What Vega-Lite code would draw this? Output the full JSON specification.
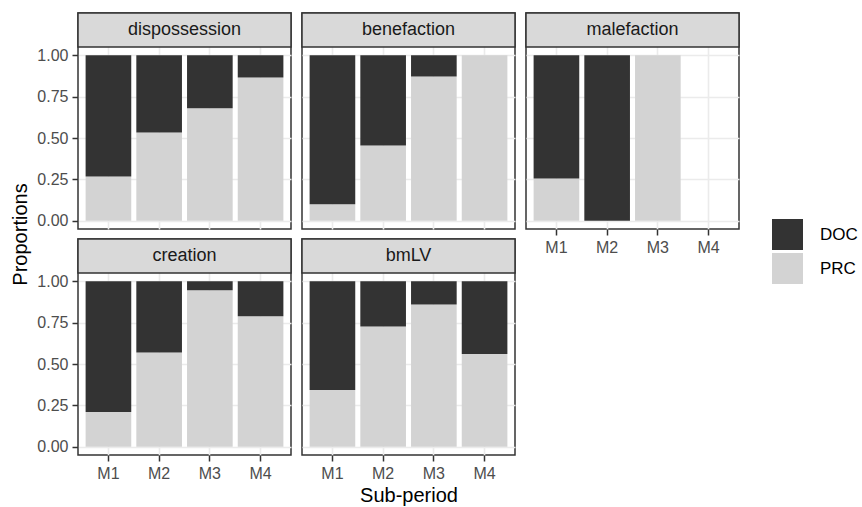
{
  "$schema": "https://vega.github.io/schema/vega-lite/v6.json",
  "padding": {"left": 10, "top": 11, "right": 0, "bottom": 0},
  "background": "white",
  "data": {
    "values": [
      {"panel": "dispossession", "period": "M1", "type": "PRC", "prop": 0.267},
      {"panel": "dispossession", "period": "M1", "type": "DOC", "prop": 0.733},
      {"panel": "dispossession", "period": "M2", "type": "PRC", "prop": 0.533},
      {"panel": "dispossession", "period": "M2", "type": "DOC", "prop": 0.467},
      {"panel": "dispossession", "period": "M3", "type": "PRC", "prop": 0.68},
      {"panel": "dispossession", "period": "M3", "type": "DOC", "prop": 0.32},
      {"panel": "dispossession", "period": "M4", "type": "PRC", "prop": 0.865},
      {"panel": "dispossession", "period": "M4", "type": "DOC", "prop": 0.135},
      {"panel": "benefaction", "period": "M1", "type": "PRC", "prop": 0.1},
      {"panel": "benefaction", "period": "M1", "type": "DOC", "prop": 0.9},
      {"panel": "benefaction", "period": "M2", "type": "PRC", "prop": 0.455},
      {"panel": "benefaction", "period": "M2", "type": "DOC", "prop": 0.545},
      {"panel": "benefaction", "period": "M3", "type": "PRC", "prop": 0.871},
      {"panel": "benefaction", "period": "M3", "type": "DOC", "prop": 0.129},
      {"panel": "benefaction", "period": "M4", "type": "PRC", "prop": 1.0},
      {"panel": "malefaction", "period": "M1", "type": "PRC", "prop": 0.255},
      {"panel": "malefaction", "period": "M1", "type": "DOC", "prop": 0.745},
      {"panel": "malefaction", "period": "M2", "type": "DOC", "prop": 1.0},
      {"panel": "malefaction", "period": "M3", "type": "PRC", "prop": 1.0},
      {"panel": "creation", "period": "M1", "type": "PRC", "prop": 0.21},
      {"panel": "creation", "period": "M1", "type": "DOC", "prop": 0.79},
      {"panel": "creation", "period": "M2", "type": "PRC", "prop": 0.569},
      {"panel": "creation", "period": "M2", "type": "DOC", "prop": 0.431},
      {"panel": "creation", "period": "M3", "type": "PRC", "prop": 0.945},
      {"panel": "creation", "period": "M3", "type": "DOC", "prop": 0.055},
      {"panel": "creation", "period": "M4", "type": "PRC", "prop": 0.788},
      {"panel": "creation", "period": "M4", "type": "DOC", "prop": 0.212},
      {"panel": "bmLV", "period": "M1", "type": "PRC", "prop": 0.343},
      {"panel": "bmLV", "period": "M1", "type": "DOC", "prop": 0.657},
      {"panel": "bmLV", "period": "M2", "type": "PRC", "prop": 0.727},
      {"panel": "bmLV", "period": "M2", "type": "DOC", "prop": 0.273},
      {"panel": "bmLV", "period": "M3", "type": "PRC", "prop": 0.86},
      {"panel": "bmLV", "period": "M3", "type": "DOC", "prop": 0.14},
      {"panel": "bmLV", "period": "M4", "type": "PRC", "prop": 0.561},
      {"panel": "bmLV", "period": "M4", "type": "DOC", "prop": 0.439}
    ]
  },
  "columns": 3,
  "spacing": {"row": 10, "column": 11},
  "bounds": "flush",
  "resolve": {
    "scale": {"x": "independent", "y": "independent", "color": "shared"},
    "legend": {"color": "shared"}
  },
  "concat": [
    {
      "transform": [{"filter": "datum.panel === 'dispossession'"}],
      "width": 213,
      "height": 216,
      "layer": [
        {
          "mark": {"type": "bar", "strokeWidth": 0},
          "encoding": {
            "x": {
              "field": "period", "type": "nominal",
              "scale": {"domain": ["M1", "M2", "M3", "M4"], "paddingInner": 0.1, "paddingOuter": 0.15},
              "axis": {"grid": true, "bandPosition": 0.5, "gridWidth": 1.6, "labels": false, "ticks": false, "title": null}
            },
            "y": {
              "field": "prop", "type": "quantitative", "stack": "zero",
              "scale": {"domain": [-0.05, 1.2555], "nice": false, "zero": false},
              "axis": {
                "values": [0, 0.125, 0.25, 0.375, 0.5, 0.625, 0.75, 0.875, 1],
                "labelExpr": "datum.value % 0.25 === 0 ? format(datum.value, '.2f') : ''",
                "tickOpacity": {"condition": {"test": "datum.value % 0.25 !== 0", "value": 0}, "value": 1},
                "gridWidth": {"condition": {"test": "datum.value % 0.25 !== 0", "value": 0.8}, "value": 1.6},
                "title": "Proportions",
                "titleY": 221
              }
            },
            "color": {
              "field": "type", "type": "nominal",
              "scale": {"domain": ["DOC", "PRC"], "range": ["#333333", "#d3d3d3"]},
              "legend": {"title": null, "orient": "none", "legendX": 694, "legendY": 206}
            },
            "order": {"field": "type", "sort": "descending"}
          }
        },
        {
          "transform": [{"aggregate": [{"op": "count", "as": "n"}], "groupby": ["panel"]}],
          "mark": {"type": "rect", "fill": "#d9d9d9", "stroke": "#333333", "strokeWidth": 1.5},
          "encoding": {"y": {"datum": 1.05, "type": "quantitative"}, "y2": {"datum": 1.2555}}
        },
        {
          "transform": [{"aggregate": [{"op": "count", "as": "n"}], "groupby": ["panel"]}],
          "mark": {"type": "text", "fontSize": 18, "color": "#1a1a1a", "baseline": "middle", "align": "center"},
          "encoding": {"y": {"datum": 1.153, "type": "quantitative"}, "text": {"field": "panel", "type": "nominal"}}
        }
      ]
    },
    {
      "transform": [{"filter": "datum.panel === 'benefaction'"}],
      "width": 213,
      "height": 216,
      "layer": [
        {
          "mark": {"type": "bar", "strokeWidth": 0},
          "encoding": {
            "x": {
              "field": "period", "type": "nominal",
              "scale": {"domain": ["M1", "M2", "M3", "M4"], "paddingInner": 0.1, "paddingOuter": 0.15},
              "axis": {"grid": true, "bandPosition": 0.5, "gridWidth": 1.6, "labels": false, "ticks": false, "title": null}
            },
            "y": {
              "field": "prop", "type": "quantitative", "stack": "zero",
              "scale": {"domain": [-0.05, 1.2555], "nice": false, "zero": false},
              "axis": {
                "values": [0, 0.125, 0.25, 0.375, 0.5, 0.625, 0.75, 0.875, 1],
                "labels": false, "ticks": false, "title": null,
                "gridWidth": {"condition": {"test": "datum.value % 0.25 !== 0", "value": 0.8}, "value": 1.6}
              }
            },
            "color": {
              "field": "type", "type": "nominal",
              "scale": {"domain": ["DOC", "PRC"], "range": ["#333333", "#d3d3d3"]},
              "legend": {"title": null, "orient": "none", "legendX": 694, "legendY": 206}
            },
            "order": {"field": "type", "sort": "descending"}
          }
        },
        {
          "transform": [{"aggregate": [{"op": "count", "as": "n"}], "groupby": ["panel"]}],
          "mark": {"type": "rect", "fill": "#d9d9d9", "stroke": "#333333", "strokeWidth": 1.5},
          "encoding": {"y": {"datum": 1.05, "type": "quantitative"}, "y2": {"datum": 1.2555}}
        },
        {
          "transform": [{"aggregate": [{"op": "count", "as": "n"}], "groupby": ["panel"]}],
          "mark": {"type": "text", "fontSize": 18, "color": "#1a1a1a", "baseline": "middle", "align": "center"},
          "encoding": {"y": {"datum": 1.153, "type": "quantitative"}, "text": {"field": "panel", "type": "nominal"}}
        }
      ]
    },
    {
      "transform": [{"filter": "datum.panel === 'malefaction'"}],
      "width": 213,
      "height": 216,
      "layer": [
        {
          "mark": {"type": "bar", "strokeWidth": 0},
          "encoding": {
            "x": {
              "field": "period", "type": "nominal",
              "scale": {"domain": ["M1", "M2", "M3", "M4"], "paddingInner": 0.1, "paddingOuter": 0.15},
              "axis": {"grid": true, "bandPosition": 0.5, "gridWidth": 1.6, "labelAngle": 0, "title": null}
            },
            "y": {
              "field": "prop", "type": "quantitative", "stack": "zero",
              "scale": {"domain": [-0.05, 1.2555], "nice": false, "zero": false},
              "axis": {
                "values": [0, 0.125, 0.25, 0.375, 0.5, 0.625, 0.75, 0.875, 1],
                "labels": false, "ticks": false, "title": null,
                "gridWidth": {"condition": {"test": "datum.value % 0.25 !== 0", "value": 0.8}, "value": 1.6}
              }
            },
            "color": {
              "field": "type", "type": "nominal",
              "scale": {"domain": ["DOC", "PRC"], "range": ["#333333", "#d3d3d3"]},
              "legend": {"title": null, "orient": "none", "legendX": 694, "legendY": 206}
            },
            "order": {"field": "type", "sort": "descending"}
          }
        },
        {
          "transform": [{"aggregate": [{"op": "count", "as": "n"}], "groupby": ["panel"]}],
          "mark": {"type": "rect", "fill": "#d9d9d9", "stroke": "#333333", "strokeWidth": 1.5},
          "encoding": {"y": {"datum": 1.05, "type": "quantitative"}, "y2": {"datum": 1.2555}}
        },
        {
          "transform": [{"aggregate": [{"op": "count", "as": "n"}], "groupby": ["panel"]}],
          "mark": {"type": "text", "fontSize": 18, "color": "#1a1a1a", "baseline": "middle", "align": "center"},
          "encoding": {"y": {"datum": 1.153, "type": "quantitative"}, "text": {"field": "panel", "type": "nominal"}}
        }
      ]
    },
    {
      "transform": [{"filter": "datum.panel === 'creation'"}],
      "width": 213,
      "height": 216,
      "layer": [
        {
          "mark": {"type": "bar", "strokeWidth": 0},
          "encoding": {
            "x": {
              "field": "period", "type": "nominal",
              "scale": {"domain": ["M1", "M2", "M3", "M4"], "paddingInner": 0.1, "paddingOuter": 0.15},
              "axis": {"grid": true, "bandPosition": 0.5, "gridWidth": 1.6, "labelAngle": 0, "title": null}
            },
            "y": {
              "field": "prop", "type": "quantitative", "stack": "zero",
              "scale": {"domain": [-0.05, 1.2555], "nice": false, "zero": false},
              "axis": {
                "values": [0, 0.125, 0.25, 0.375, 0.5, 0.625, 0.75, 0.875, 1],
                "labelExpr": "datum.value % 0.25 === 0 ? format(datum.value, '.2f') : ''",
                "tickOpacity": {"condition": {"test": "datum.value % 0.25 !== 0", "value": 0}, "value": 1},
                "gridWidth": {"condition": {"test": "datum.value % 0.25 !== 0", "value": 0.8}, "value": 1.6},
                "title": null
              }
            },
            "color": {
              "field": "type", "type": "nominal",
              "scale": {"domain": ["DOC", "PRC"], "range": ["#333333", "#d3d3d3"]},
              "legend": {"title": null, "orient": "none", "legendX": 694, "legendY": 206}
            },
            "order": {"field": "type", "sort": "descending"}
          }
        },
        {
          "transform": [{"aggregate": [{"op": "count", "as": "n"}], "groupby": ["panel"]}],
          "mark": {"type": "rect", "fill": "#d9d9d9", "stroke": "#333333", "strokeWidth": 1.5},
          "encoding": {"y": {"datum": 1.05, "type": "quantitative"}, "y2": {"datum": 1.2555}}
        },
        {
          "transform": [{"aggregate": [{"op": "count", "as": "n"}], "groupby": ["panel"]}],
          "mark": {"type": "text", "fontSize": 18, "color": "#1a1a1a", "baseline": "middle", "align": "center"},
          "encoding": {"y": {"datum": 1.153, "type": "quantitative"}, "text": {"field": "panel", "type": "nominal"}}
        }
      ]
    },
    {
      "transform": [{"filter": "datum.panel === 'bmLV'"}],
      "width": 213,
      "height": 216,
      "layer": [
        {
          "mark": {"type": "bar", "strokeWidth": 0},
          "encoding": {
            "x": {
              "field": "period", "type": "nominal",
              "scale": {"domain": ["M1", "M2", "M3", "M4"], "paddingInner": 0.1, "paddingOuter": 0.15},
              "axis": {"grid": true, "bandPosition": 0.5, "gridWidth": 1.6, "labelAngle": 0, "title": "Sub-period"}
            },
            "y": {
              "field": "prop", "type": "quantitative", "stack": "zero",
              "scale": {"domain": [-0.05, 1.2555], "nice": false, "zero": false},
              "axis": {
                "values": [0, 0.125, 0.25, 0.375, 0.5, 0.625, 0.75, 0.875, 1],
                "labels": false, "ticks": false, "title": null,
                "gridWidth": {"condition": {"test": "datum.value % 0.25 !== 0", "value": 0.8}, "value": 1.6}
              }
            },
            "color": {
              "field": "type", "type": "nominal",
              "scale": {"domain": ["DOC", "PRC"], "range": ["#333333", "#d3d3d3"]},
              "legend": {"title": null, "orient": "none", "legendX": 694, "legendY": 206}
            },
            "order": {"field": "type", "sort": "descending"}
          }
        },
        {
          "transform": [{"aggregate": [{"op": "count", "as": "n"}], "groupby": ["panel"]}],
          "mark": {"type": "rect", "fill": "#d9d9d9", "stroke": "#333333", "strokeWidth": 1.5},
          "encoding": {"y": {"datum": 1.05, "type": "quantitative"}, "y2": {"datum": 1.2555}}
        },
        {
          "transform": [{"aggregate": [{"op": "count", "as": "n"}], "groupby": ["panel"]}],
          "mark": {"type": "text", "fontSize": 18, "color": "#1a1a1a", "baseline": "middle", "align": "center"},
          "encoding": {"y": {"datum": 1.153, "type": "quantitative"}, "text": {"field": "panel", "type": "nominal"}}
        }
      ]
    }
  ],
  "config": {
    "font": "Liberation Sans",
    "view": {"stroke": "#333333", "strokeWidth": 1.5},
    "axis": {
      "domain": false,
      "tickColor": "#333333",
      "tickWidth": 1.5,
      "tickSize": 6,
      "labelFontSize": 16,
      "labelColor": "#4d4d4d",
      "labelPadding": 4,
      "labelOverlap": false,
      "labelFlush": false,
      "titleFontSize": 20,
      "titleFontWeight": "normal",
      "titleColor": "#000000",
      "gridColor": "#ebebeb"
    },
    "axisX": {"titlePadding": 4},
    "axisY": {"titlePadding": 6},
    "legend": {
      "padding": 0,
      "symbolType": "square",
      "symbolSize": 961,
      "symbolStrokeWidth": 0,
      "symbolOpacity": 1,
      "labelFontSize": 17,
      "labelColor": "#000000",
      "labelOffset": 17,
      "rowPadding": 3
    }
  }
}
